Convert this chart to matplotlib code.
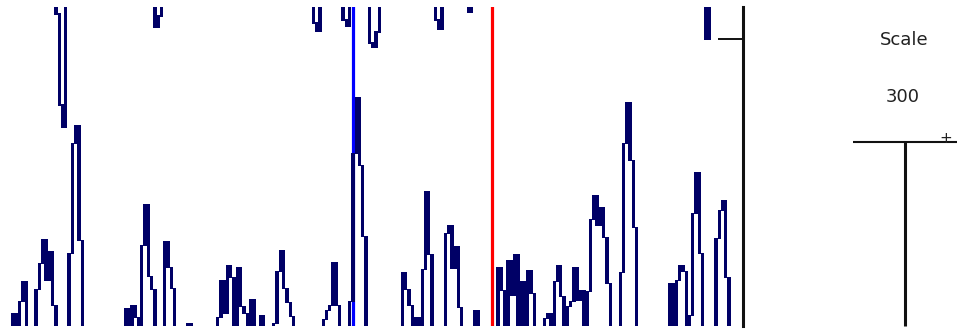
import numpy as np
import matplotlib
matplotlib.use("Agg")
import matplotlib.pyplot as plt

# ---------------- data (per-bin coverage, equal-width bins) ----------------
n_bins = 225
# lower track, values grow upward from the baseline
lower = [
    0, 0, 0, 12, 0, 24, 44, 0, 0, 0, 36, 62, 86, 45, 74,
    20, 0, 0, 0, 0, 72, 182, 200, 85, 0, 0, 0, 0, 0, 0,
    0, 0, 0, 0, 0, 0, 0, 17, 0, 20, 8, 0, 80, 121, 49,
    36, 0, 0, 0, 84, 58, 37, 0, 0, 0, 0, 2, 0, 0, 0,
    0, 0, 0, 0, 0, 8, 45, 12, 60, 48, 0, 58, 19, 12, 0,
    26, 0, 0, 10, 0, 0, 0, 2, 54, 75, 37, 23, 9, 0, 0,
    0, 0, 0, 0, 0, 0, 0, 6, 15, 20, 63, 20, 0, 0, 0,
    24, 172, 228, 160, 89, 0, 0, 0, 0, 0, 0, 0, 0, 0, 0,
    0, 53, 36, 20, 0, 8, 0, 56, 134, 71, 0, 0, 0, 0, 92,
    100, 57, 79, 18, 0, 0, 0, 0, 15, 0, 0, 0, 0, 0, 0,
    58, 35, 0, 65, 30, 71, 0, 44, 0, 55, 32, 0, 0, 0, 7,
    12, 0, 44, 60, 29, 0, 19, 24, 58, 25, 35, 0, 34, 106, 130,
    100, 118, 88, 42, 0, 0, 0, 53, 182, 223, 165, 98, 0, 0, 0,
    0, 0, 0, 0, 0, 0, 0, 42, 0, 45, 60, 54, 0, 10, 112,
    153, 72, 0, 0, 0, 0, 87, 115, 125, 48, 0, 0, 0, 0, 0,
]
# upper track, values hang down from the top edge
upper_bins = [16, 17, 18, 46, 47, 94, 95, 103, 104, 111, 112, 113, 131, 132, 141, 213]
upper_vals = [7, 98, 120, 20, 9, 16, 24, 13, 19, 36, 40, 25, 13, 22, 5, 32]

blue_marker = 106.6
red_marker = 148.7
ref_level = 287
y_max = 318.5
scale_label = "Scale"
scale_value = "300"

# ---------------- drawing ----------------
W, H = 957, 331
fig = plt.figure(figsize=(W / 100, H / 100), dpi=100)
fig.patch.set_facecolor("white")

rect = [0.0, (H - 325.5) / H, 742.5 / W, (325.5 - 7) / H]
ax = fig.add_axes(rect)
x_lo, x_hi = -1.5 / 3.3, (742.5 - 1.5) / 3.3
ax.set_xlim(x_lo, x_hi)
ax.set_ylim(0, y_max)

navy = "#000066"
pad = 1.8


def step_columns(vals):
    vals = np.asarray(vals, dtype=float)
    prev = np.concatenate([[0.0], vals[:-1]])
    lo = np.minimum(prev, vals)
    hi = np.maximum(prev, vals)
    keep = hi > 0
    idx = np.arange(len(vals))[keep]
    return idx, lo[keep], hi[keep]


idx, lo, hi = step_columns(lower)
ax.bar(idx, hi - lo + pad, bottom=lo - pad / 2, width=1.0, align="edge",
       color=navy, linewidth=0, zorder=3)

ax.axvline(blue_marker, color="#0000ff", lw=2.3, zorder=2)
ax.axvline(red_marker, color="#ff0000", lw=2.3, zorder=2)

for s in ["left", "top", "bottom"]:
    ax.spines[s].set_visible(False)
ax.spines["right"].set_linewidth(2.2)
ax.spines["right"].set_color("#111111")
ax.set_xticks([])
ax.yaxis.set_ticks_position("right")
ax.set_yticks([ref_level])
ax.tick_params(axis="y", direction="in", length=18, width=1.4,
               colors="#111111", labelright=False, labelleft=False)

# upper (hanging) track
ax2 = fig.add_axes(rect)
ax2.set_xlim(x_lo, x_hi)
ax2.set_ylim(y_max, 0)
ax2.patch.set_visible(False)
ax2.axis("off")
upper = np.zeros(n_bins)
upper[upper_bins] = upper_vals
uidx, ulo, uhi = step_columns(upper)
ax2.bar(uidx, uhi - ulo + pad, bottom=ulo - pad / 2, width=1.0, align="edge",
        color=navy, linewidth=0, zorder=3)

# scale panel on the right
sax = fig.add_axes([0, 0, 1, 1])
sax.set_xlim(0, W)
sax.set_ylim(H, 0)
sax.axis("off")
sax.patch.set_visible(False)
sax.text(904, 40, scale_label, ha="center", va="center", fontsize=13,
         color="#222222", family="DejaVu Sans")
sax.text(902.5, 96.5, scale_value, ha="center", va="center", fontsize=13,
         color="#222222", family="DejaVu Sans")
sax.plot([853, 957], [141.6, 141.6], color="#111111", lw=1.5, solid_capstyle="butt")
sax.plot([904.7, 904.7], [141.6, 325.5], color="#111111", lw=2.2, solid_capstyle="butt")
sax.text(945.5, 138.5, "+", ha="center", va="center", fontsize=11, color="#222222")

fig.savefig("out.png", dpi=100)
